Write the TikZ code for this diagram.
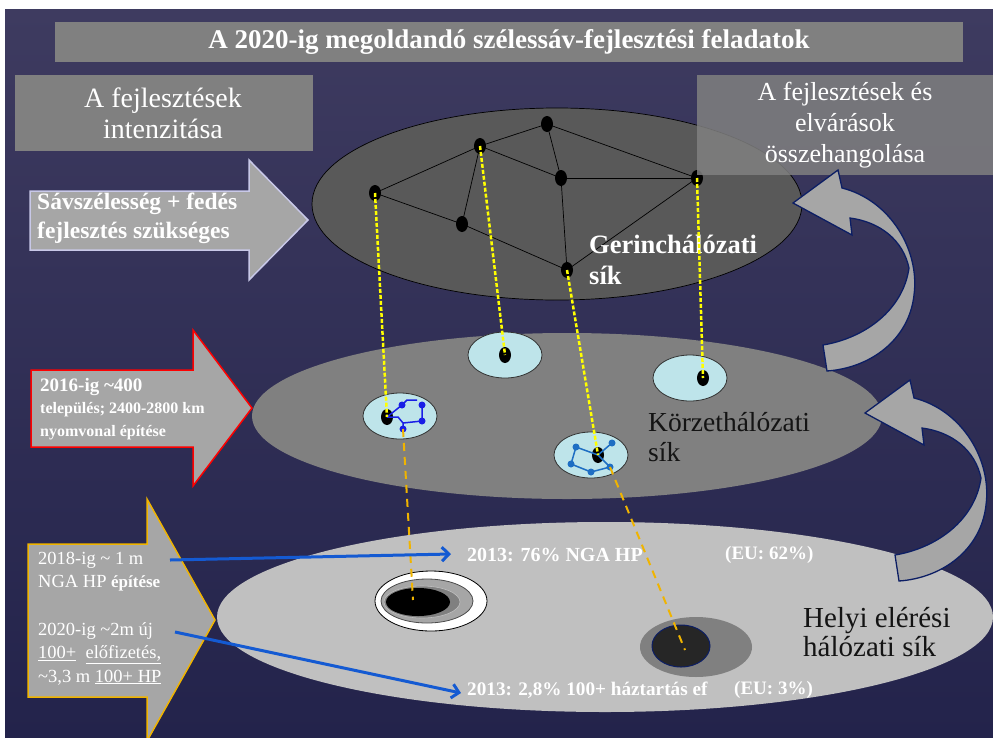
\documentclass[tikz,border=0pt]{standalone}
\usepackage{fontspec}
\setmainfont{Liberation Serif}
\usetikzlibrary{arrows.meta,shapes.geometric}
\definecolor{bgtop}{RGB}{62,59,96}
\definecolor{bgbot}{RGB}{35,35,75}
\definecolor{boxgray}{RGB}{128,128,128}
\definecolor{topell}{RGB}{89,89,89}
\definecolor{midell}{RGB}{128,128,128}
\definecolor{botell}{RGB}{192,192,192}
\definecolor{cyanell}{RGB}{190,228,234}
\definecolor{arrgray}{RGB}{166,166,166}
\definecolor{lavender}{RGB}{200,200,232}
\definecolor{gold}{RGB}{240,180,0}
\definecolor{navy}{RGB}{12,30,100}
\definecolor{netblue}{RGB}{25,30,230}
\definecolor{netsteel}{RGB}{30,110,195}
\definecolor{linkblue}{RGB}{20,90,210}
\definecolor{yel}{RGB}{255,255,0}
\definecolor{darkfill}{RGB}{38,38,38}
\definecolor{txtdark}{RGB}{20,20,20}
\tikzset{
  bnode/.style={ellipse,fill=black,minimum width=12pt,minimum height=16pt,inner sep=0pt},
  cnode/.style={ellipse,draw=black!80,fill=cyanell,line width=0.8pt,inner sep=0pt,minimum width=74pt,minimum height=46pt},
  bdot/.style={circle,fill=#1,minimum size=7pt,inner sep=0pt},
  net/.style={line width=0.7pt,black},
  yline/.style={yel,line width=2.5pt,dash pattern=on 4pt off 2pt},
  oline/.style={gold,line width=2pt,dash pattern=on 8pt off 6pt},
  wtext/.style={text=white,inner sep=0pt},
  btext/.style={text=txtdark,inner sep=0pt},
  linkarrow/.style={linkblue,line width=3pt,-{Straight Barb[length=7pt,width=14pt]}},
  blockarrow/.style={fill=arrgray,line width=1.5pt,line join=miter},
  curvarrow/.style={fill=arrgray,draw=navy,line width=1.3pt,line join=miter},
}
\newcommand{\curvedshape}{(793,203) -- (838,170) -- (842,188) .. controls (890,200) and (920,250) .. (914,295) .. controls (909,340) and (870,368) .. (827,371) -- (823,345) .. controls (865,338) and (903,310) .. (909,268) .. controls (903,240) and (880,222) .. (850,218) -- (852,235) -- cycle}
\begin{document}
\begin{tikzpicture}[x=1pt,y=-1pt]
\useasboundingbox (0,0) rectangle (993,737);
\clip (0,0) rectangle (993,737);
\fill[white] (0,0) rectangle (993,737);
\shade[top color=bgtop,bottom color=bgbot] (5,9) rectangle (993,737);

% title
\fill[boxgray] (55,22) rectangle (963,62);
\node[wtext,font=\fontsize{27}{30}\selectfont\bfseries] (title) at (509,42) {A 2020-ig megoldandó szélessáv-fejlesztési feladatok};

% left box
\fill[boxgray] (15,75) rectangle (313,151);
\node[wtext,align=center,font=\fontsize{28}{31}\selectfont] (intenz) at (163,113) {A fejlesztések\\intenzitása};

% middle and bottom planes
\fill[midell] (567,416) ellipse [x radius=315, y radius=83];
\fill[botell] (605,617) ellipse [x radius=388, y radius=95];

% top plane
\filldraw[fill=topell,draw=black,line width=0.7pt] (557,204) ellipse [x radius=245, y radius=96];
\node[bnode] (n1) at (547,124) {};
\node[bnode] (n2) at (480,146) {};
\node[bnode] (n3) at (375,193) {};
\node[bnode] (n4) at (561,178) {};
\node[bnode] (n5) at (697,178) {};
\node[bnode] (n6) at (462,224) {};
\node[bnode] (n7) at (567,270) {};
\draw[net] (n1.center) -- (n2.center);
\draw[net] (n1.center) -- (n4.center);
\draw[net] (n1.center) -- (n5.center);
\draw[net] (n2.center) -- (n3.center);
\draw[net] (n2.center) -- (n4.center);
\draw[net] (n2.center) -- (n6.center);
\draw[net] (n3.center) -- (n6.center);
\draw[net] (n6.center) -- (n7.center);
\draw[net] (n4.center) -- (n5.center);
\draw[net] (n4.center) -- (n7.center);
\draw[net] (n7.center) -- (n5.center);
\node[wtext,align=left,anchor=west,font=\fontsize{26.5}{31}\selectfont\bfseries] (gerinc) at (589,260) {Gerinchálózati\\sík};

% right box (semi-transparent)
\fill[boxgray,fill opacity=0.85] (697,75) rectangle (993,175);
\node[wtext,align=center,font=\fontsize{26}{31}\selectfont] (osszeh) at (845,125) {A fejlesztések és\\elvárások\\összehangolása};

% middle plane content
\node[cnode] (c1) at (400,416) {};
\node[cnode] (c2) at (505,355) {};
\node[cnode] (c3) at (690,378) {};
\node[cnode] (c4) at (591,455) {};
\node[bnode] (d1) at (387,417) {};
\node[bnode] (d2) at (505,355) {};
\node[bnode] (d3) at (703,378) {};
\node[bnode] (d4) at (598,455) {};
% blue network 1
\node[bdot=netblue] (ba) at (402,405) {};
\node[bdot=netblue] (bb) at (422,405) {};
\node[bdot=netblue] (bc) at (422,421) {};
\node[bdot=netblue] (bd) at (403,429) {};
\draw[netblue,line width=1.5pt] (d1.center) -- (ba.center) -- (407,400) -- (417,400);
\draw[netblue,line width=1.5pt] (bb.center) -- (bc.center) -- (403,423) -- (bd.center);
\draw[netblue,line width=1.5pt] (d1.center) -- (398,417) -- (403,423);
% blue network 2
\node[bdot=netsteel] (sp) at (576,447) {};
\node[bdot=netsteel] (sq) at (612,443) {};
\node[bdot=netsteel] (sr) at (571,464) {};
\node[bdot=netsteel] (ss) at (591,472) {};
\node[bdot=netsteel] (st) at (610,467) {};
\draw[netsteel,line width=1.5pt] (d4.center) -- (sp.center) -- (sr.center) -- (ss.center) -- (st.center) -- (d4.center) -- (sq.center);
\node[btext,align=left,anchor=west,font=\fontsize{27.5}{30}\selectfont] (korzet) at (648,437) {Körzethálózati\\sík};

% bottom plane content
\filldraw[fill=white,draw=black,line width=0.8pt] (431,601) ellipse [x radius=56, y radius=30];
\filldraw[fill=black!35,draw=black!70,line width=0.8pt] (427,601) ellipse [x radius=46, y radius=22];
\filldraw[fill=black!50,draw=black!25,line width=0.6pt] (422,602) ellipse [x radius=38, y radius=16];
\fill[black] (418,602) ellipse [x radius=32, y radius=14];
\coordinate (ringc) at (413,600);
\fill[midell] (696,647) ellipse [x radius=56, y radius=30];
\filldraw[fill=darkfill,draw=navy,line width=1pt] (681,646) ellipse [x radius=29, y radius=21];
\coordinate (darkc) at (685,650);
\node[btext,align=left,anchor=west,font=\fontsize{29}{29}\selectfont] (helyi) at (803,632) {Helyi elérési\\hálózati sík};

% connectors between planes
\draw[yline] (n3.center) -- (d1.center);
\draw[yline] (n2.center) -- (d2.center);
\draw[yline] (n7.center) -- (d4.center);
\draw[yline] (n5.center) -- (d3.center);
\draw[oline] (bd.center) -- (ringc);
\draw[oline] (st.center) -- (darkc);

% statistics texts
\node[wtext,anchor=west,font=\fontsize{20}{22}\selectfont\bfseries] (t76) at (467,555) {2013: 76\% NGA HP};
\node[wtext,anchor=west,font=\fontsize{19}{22}\selectfont\bfseries] (eu62) at (725,555) {(EU: 62\%)};
\node[wtext,anchor=west,font=\fontsize{19.2}{22}\selectfont\bfseries] (t28) at (467,690) {2013: 2,8\% 100+ háztartás ef};
\node[wtext,anchor=west,font=\fontsize{19}{22}\selectfont\bfseries] (eu3) at (734,690) {(EU: 3\%)};

% left block arrows
\filldraw[blockarrow,draw=lavender] (30,191) -- (249,191) -- (249,160) -- (308,220) -- (249,280) -- (249,250) -- (30,250) -- cycle;
\node[wtext,align=left,anchor=west,font=\fontsize{23.5}{29}\selectfont\bfseries] (savsz) at (37,218) {Sávszélesség + fedés\\fejlesztés szükséges};

\filldraw[blockarrow,draw=red] (31,370) -- (193,370) -- (193,330) -- (252,408) -- (193,486) -- (193,447) -- (31,447) -- cycle;
\node[wtext,align=left,anchor=west,font=\fontsize{16}{22.5}\selectfont\bfseries] (t2016) at (40,409) {{\fontsize{19}{22.5}\selectfont 2016-ig \textasciitilde400}\\település; 2400-2800 km\\nyomvonal építése};

\filldraw[blockarrow,draw=gold] (28,544) -- (147,544) -- (147,499) -- (215,620) -- (147,741) -- (147,697) -- (28,697) -- cycle;
\node[wtext,align=left,anchor=west,font=\fontsize{18.5}{23.5}\selectfont] (t2018) at (38,571.5) {2018-ig \textasciitilde\ 1 m\\NGA HP {\fontsize{17}{18}\selectfont\bfseries építése}};
\node[wtext,align=left,anchor=west,font=\fontsize{18.5}{23.5}\selectfont] (t2020) at (38,653.5) {2020-ig \textasciitilde2m új\\\underline{100+}\ \ \underline{előfizetés,}\\\textasciitilde3,3 m \underline{100+ HP}};

\coordinate (la1) at (170,560);
\coordinate (la2) at (175,632);
\draw[linkarrow] (la1) -- ([xshift=-16pt,yshift=1pt]t76.west);
\draw[linkarrow] (la2) -- ([xshift=-6pt,yshift=-3pt]t28.west);

% curved arrows
\filldraw[curvarrow] \curvedshape;
\begin{scope}[shift={(72,210)}]
\filldraw[curvarrow] \curvedshape;
\end{scope}
\end{tikzpicture}
\end{document}
